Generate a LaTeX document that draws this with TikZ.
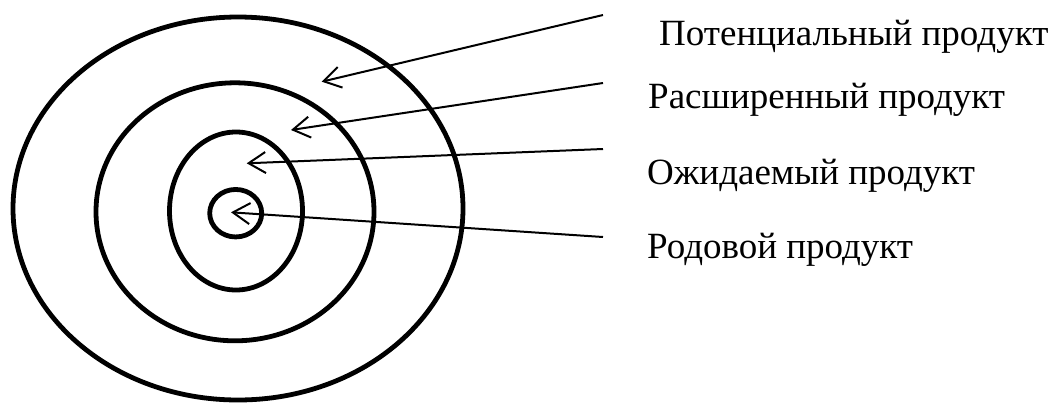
\documentclass[tikz,border=0pt]{standalone}
\usepackage{fontspec}
\setmainfont{Liberation Serif}
\usetikzlibrary{shapes.geometric, arrows.meta}

\begin{document}
\begin{tikzpicture}[
    x=1pt, y=-1pt,
    ring_style/.style={
        ellipse,
        draw=black,
        line width=4.8pt,
        inner sep=0pt,
        outer sep=0pt
    },
    lbl_style/.style={
        anchor=base west,
        inner sep=0pt,
        font=\fontsize{37}{44}\selectfont
    },
    ptr_style/.style={
        draw=black,
        line width=2pt,
        -{Straight Barb[length=17pt, width=21pt]}
    }
]

\useasboundingbox (0,0) rectangle (1059,405);

% rings, outer to inner
\node[ring_style, minimum width=450pt, minimum height=383pt] (r0) at (238,208.5) {};
\node[ring_style, minimum width=278pt, minimum height=258pt] (r1) at (235,211.8) {};
\node[ring_style, minimum width=133pt, minimum height=158pt] (r2) at (236,211) {};
\node[ring_style, minimum width=52pt, minimum height=47.5pt] (r3) at (235.7,213.2) {};

% labels
\node[lbl_style] (l0) at (659,45) {Потенциальный продукт};
\node[lbl_style] (l1) at (648,108) {Расширенный продукт};
\node[lbl_style] (l2) at (647,184) {Ожидаемый продукт};
\node[lbl_style] (l3) at (647,258) {Родовой продукт};

% arrow ends
\coordinate (s0) at (603,15);
\coordinate (s1) at (603,83);
\coordinate (s2) at (603,149);
\coordinate (s3) at (603,237);

\coordinate (t0) at (321.7,81.7);
\coordinate (t1) at (291,130);
\coordinate (t2) at (246.7,163.3);
\coordinate (t3) at (231,212.3);

\draw[ptr_style] (s0) -- (t0);
\draw[ptr_style] (s1) -- (t1);
\draw[ptr_style] (s2) -- (t2);
\draw[ptr_style] (s3) -- (t3);

\end{tikzpicture}
\end{document}
